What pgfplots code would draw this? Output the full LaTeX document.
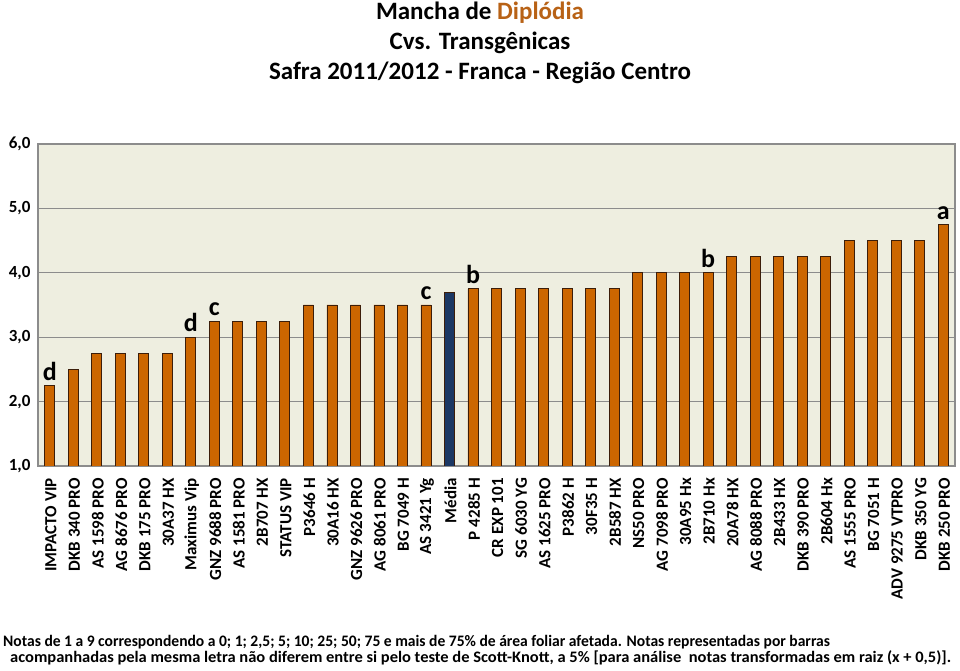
\documentclass[border=0pt]{standalone}
\usepackage{pgfplots}
\pgfplotsset{compat=1.18}
\usepackage{fontspec}
\setmainfont{Carlito}
\definecolor{barorange}{RGB}{204,102,0}
\definecolor{baredge}{RGB}{60,30,10}
\definecolor{barnavy}{RGB}{28,56,100}
\definecolor{bgbeige}{RGB}{238,238,224}
\definecolor{gridgray}{RGB}{140,140,140}
\definecolor{titleorange}{RGB}{184,98,22}
\begin{document}
\begin{tikzpicture}
\path[use as bounding box] (0,0) rectangle (960pt,671pt);
\begin{axis}[
  at={(38pt,205pt)}, anchor=south west,
  scale only axis, width=917pt, height=322pt,
  xmin=-0.5, xmax=38.5, ymin=1, ymax=6,
  ytick={1,2,3,4,5,6},
  xtick={0,...,38},
  xticklabels={IMPACTO VIP,DKB 340 PRO,AS 1598 PRO,AG 8676 PRO,DKB 175 PRO,30A37 HX,Maximus Vip,GNZ 9688 PRO,AS 1581 PRO,2B707 HX,STATUS VIP,P3646 H,30A16 HX,GNZ 9626 PRO,AG 8061 PRO,BG 7049 H,AS 3421 Yg,Média,P 4285 H,CR EXP 101,SG 6030 YG,AS 1625 PRO,P3862 H,30F35 H,2B587 HX,NS50 PRO,AG 7098 PRO,30A95 Hx,2B710 Hx,20A78 HX,AG 8088 PRO,2B433 HX,DKB 390 PRO,2B604 Hx,AS 1555 PRO,BG 7051 H,ADV 9275 VTPRO,DKB 350 YG,DKB 250 PRO},
  x tick label style={rotate=90, anchor=east, font=\fontsize{17}{17}\selectfont\bfseries, inner sep=0pt, yshift=-1pt},
  xticklabel shift=12pt,
  y tick label style={font=\fontsize{17}{17}\selectfont\bfseries},
  yticklabel shift=4pt,
  /pgf/number format/.cd, use comma, fixed, fixed zerofill, precision=1, assume math mode=true,
  /pgfplots/.cd,
  major tick length=0pt,
  ymajorgrids, grid style={gridgray, line width=1.3pt},
  axis line style={gridgray, line width=1.3pt},
  axis background/.style={fill=bgbeige},
  clip=true,
]
\addplot[ybar, bar width=10pt, bar shift=0pt, fill=barorange, draw=baredge, line width=0.8pt] coordinates {
(0,2.25) (1,2.5) (2,2.75) (3,2.75) (4,2.75) (5,2.75) (6,3.0) (7,3.25) (8,3.25) (9,3.25)
(10,3.25) (11,3.5) (12,3.5) (13,3.5) (14,3.5) (15,3.5) (16,3.5)
(18,3.75) (19,3.75) (20,3.75) (21,3.75) (22,3.75) (23,3.75) (24,3.75)
(25,4.0) (26,4.0) (27,4.0) (28,4.0) (29,4.25) (30,4.25) (31,4.25) (32,4.25) (33,4.25)
(34,4.5) (35,4.5) (36,4.5) (37,4.5) (38,4.75)
};
\addplot[ybar, bar width=10pt, bar shift=0pt, fill=barnavy, draw=baredge, line width=0.8pt] coordinates {(17,3.7)};
\addplot[only marks, mark=none, nodes near coords, point meta=explicit symbolic,
  every node near coord/.style={anchor=south, inner sep=1pt, yshift=4pt, font=\fontsize{26}{26}\selectfont\bfseries}] coordinates {
(0,2.25) [d] (6,3.0) [d] (7,3.25) [c] (16,3.5) [c] (18,3.75) [b] (28,4.0) [b] (38,4.75) [a]
};
\end{axis}
\node[anchor=base, inner sep=0pt, font=\fontsize{25}{30}\selectfont\bfseries] at (480pt,651pt) {Mancha de \textcolor{titleorange}{Diplódia}};
\node[anchor=base, inner sep=0pt, font=\fontsize{25}{30}\selectfont\bfseries] at (480pt,621pt) {Cvs. Transgênicas};
\node[anchor=base, inner sep=0pt, font=\fontsize{25}{30}\selectfont\bfseries] at (480pt,591pt) {Safra 2011/2012 - Franca - Região Centro};
\node[anchor=base west, inner sep=0pt, font=\fontsize{16}{16}\selectfont\bfseries] at (3pt,24pt)
  {\scalebox{0.973}[1]{Notas de 1 a 9 correspondendo a 0; 1; 2,5; 5; 10; 25; 50; 75 e mais de 75\% de área foliar afetada. Notas representadas por barras}};
\node[anchor=base west, inner sep=0pt, font=\fontsize{16}{16}\selectfont\bfseries] at (10pt,8pt)
  {\scalebox{1.03}[1]{acompanhadas pela mesma letra não diferem entre si pelo teste de Scott-Knott, a 5\% [para análise\ \ notas transformadas em raiz (x + 0,5)].}};
\end{tikzpicture}
\end{document}
